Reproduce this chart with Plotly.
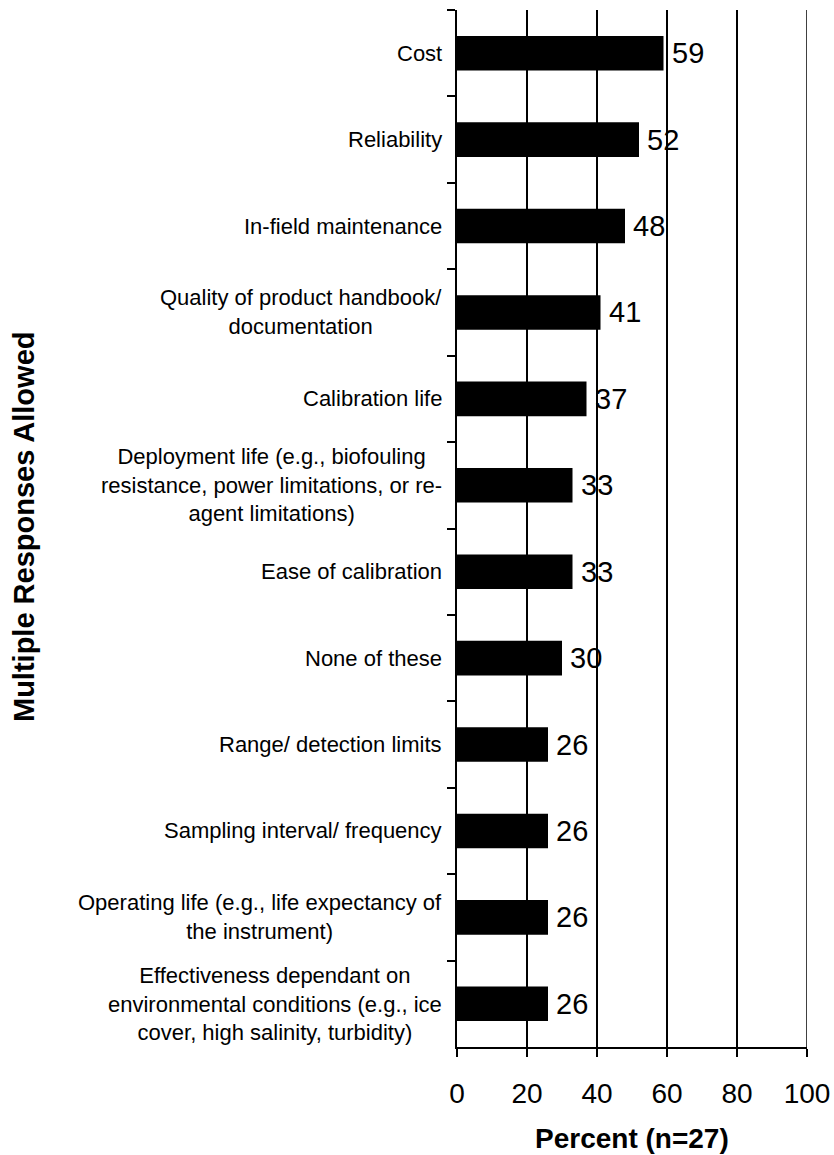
import plotly.graph_objects as go

categories = [
    "Cost",
    "Reliability",
    "In-field maintenance",
    "Quality of product handbook/<br>documentation",
    "Calibration life",
    "Deployment life (e.g., biofouling<br>resistance, power limitations, or re-<br>agent limitations)",
    "Ease of calibration",
    "None of these",
    "Range/ detection limits",
    "Sampling interval/ frequency",
    "Operating life (e.g., life expectancy of<br>the instrument)",
    "Effectiveness dependant on<br>environmental conditions (e.g., ice<br>cover, high salinity, turbidity)",
]
percent = [59, 52, 48, 41, 37, 33, 33, 30, 26, 26, 26, 26]
x_ticks = [0, 20, 40, 60, 80, 100]

FONT = "Liberation Sans, Arial, sans-serif"

L, R, T, B = 457, 27, 10, 108
W, H = 834, 1155
pw, ph = W - L - R, H - T - B

fig = go.Figure(
    go.Bar(
        x=percent,
        y=categories,
        orientation="h",
        marker=dict(color="black", line=dict(width=0)),
        hoverinfo="skip",
    )
)

annotations = []
for cat, val in zip(categories, percent):
    annotations.append(dict(
        x=val, y=cat, xref="x", yref="y", text=str(val),
        showarrow=False, xanchor="left", yanchor="middle", xshift=6,
        font=dict(family=FONT, size=29, color="black"),
    ))
    annotations.append(dict(
        x=0, y=cat, xref="paper", yref="y", text=cat,
        showarrow=False, xanchor="right", yanchor="middle", align="center",
        xshift=-13,
        font=dict(family=FONT, size=22, color="black"),
    ))

annotations.append(dict(
    x=0.5, y=(H - 1138 - B) / ph, xref="paper", yref="paper",
    text="<b>Percent (n=27)</b>",
    showarrow=False, xanchor="center", yanchor="middle",
    font=dict(family=FONT, size=28, color="black"),
))
annotations.append(dict(
    x=(24 - L) / pw, y=(H - 527 - B) / ph, xref="paper", yref="paper",
    text="<b>Multiple Responses Allowed</b>",
    showarrow=False, xanchor="center", yanchor="middle", textangle=-90,
    font=dict(family=FONT, size=29, color="black"),
))

fig.update_layout(
    width=W, height=H,
    margin=dict(l=L, r=R, t=T, b=B, autoexpand=False),
    paper_bgcolor="white", plot_bgcolor="white",
    showlegend=False,
    bargap=0.6,
    font=dict(family=FONT, color="black"),
    annotations=annotations,
    shapes=[dict(
        type="line", xref="x", yref="paper",
        x0=x_ticks[-1], x1=x_ticks[-1], y0=0, y1=1,
        line=dict(color="black", width=1.5), layer="above",
    )],
)

fig.update_xaxes(
    range=[x_ticks[0], x_ticks[-1]], tickvals=x_ticks,
    showgrid=True, gridcolor="black", gridwidth=1.5,
    showline=True, linecolor="black", linewidth=1.5,
    ticks="outside", ticklen=8, tickwidth=1.5, tickcolor="black",
    tickfont=dict(family=FONT, size=28, color="black"),
    ticklabelstandoff=13,
    zeroline=False, fixedrange=True, automargin=False,
)
fig.update_yaxes(
    categoryorder="array", categoryarray=categories,
    autorange="reversed",
    showgrid=False, zeroline=False,
    showline=True, linecolor="black", linewidth=1.5,
    ticks="outside", ticklen=8, tickwidth=1.5, tickcolor="black",
    tickson="boundaries",
    showticklabels=False, fixedrange=True, automargin=False,
)

fig.write_html(
    "out.html",
    config={"displayModeBar": False},
    post_script="document.body.style.margin='0';document.body.style.overflow='hidden';",
)
